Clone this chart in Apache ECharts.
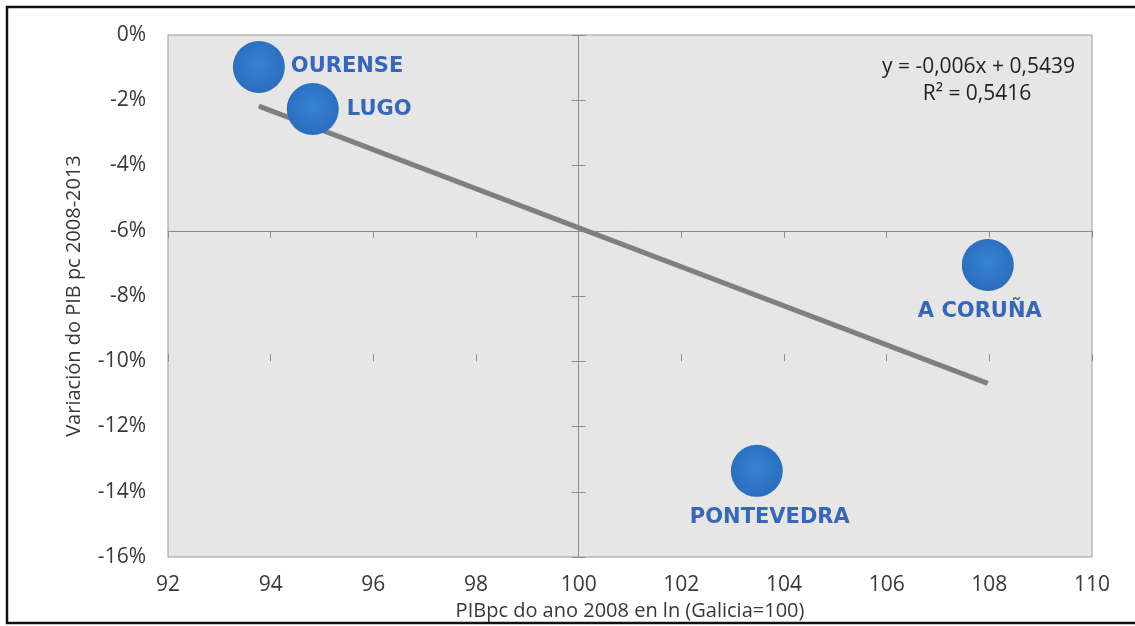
<!DOCTYPE html>
<html>
<head>
<meta charset="utf-8">
<script src="https://cdn.jsdelivr.net/npm/echarts@6/dist/echarts.min.js"></script>
<style>
  html, body { margin: 0; padding: 0; background: #fff; }
  #chart { width: 1135px; height: 626px; }
</style>
</head>
<body>
<div id="chart"></div>
<script>
// datos leidos da grafica
var provincias = ['OURENSE', 'LUGO', 'A CORUÑA', 'PONTEVEDRA'];
var pibpc = [93.77, 94.82, 107.97, 103.47];        // PIBpc 2008 (Galicia=100)
var variacion = [-0.98, -2.27, -7.05, -13.36];      // variacion PIB pc 2008-2013, %
var xTicks = [92, 110, 2];
var yTicks = [-16, 0, 2];
var ecuacion = 'y = -0,006x + 0,5439';
var r2 = 'R² = 0,5416';

var labelPos = ['right', 'right', 'bottom', 'bottom'];
var labelOffset = [[0, 0], [2, 0], [-8, 4], [13, 4]];

// recta de regresion (minimos cadrados) sobre os puntos
function tendencia(xs, ys) {
    var n = xs.length, mx = 0, my = 0;
    for (var i = 0; i < n; i++) { mx += xs[i]; my += ys[i]; }
    mx /= n; my /= n;
    var sxy = 0, sxx = 0;
    for (var j = 0; j < n; j++) {
        sxy += (xs[j] - mx) * (ys[j] - my);
        sxx += (xs[j] - mx) * (xs[j] - mx);
    }
    var b = sxy / sxx, a = my - b * mx;
    var x0 = Math.min.apply(null, xs), x1 = Math.max.apply(null, xs);
    return [[x0, a + b * x0], [x1, a + b * x1]];
}

var grid = { left: 168, right: 43, top: 35, bottom: 69 };
var plotW = 1135 - grid.left - grid.right;
var plotH = 626 - grid.top - grid.bottom;
// os eixos cruzanse en x=100 e y=-6%
var xOff = -plotH * (-6 - yTicks[0]) / (yTicks[1] - yTicks[0]);
var yOff = -plotW * (100 - xTicks[0]) / (xTicks[1] - xTicks[0]);

var textColor = '#383838';
var axisColor = '#8c8c8c';
var font = 'Open Sans';

function eixoX(extra) {
    return Object.assign({
        type: 'value', min: xTicks[0], max: xTicks[1], interval: xTicks[2],
        position: 'bottom', splitLine: { show: false },
        axisLine: { show: false }, axisTick: { show: false }, axisLabel: { show: false }
    }, extra);
}
function eixoY(extra) {
    return Object.assign({
        type: 'value', min: yTicks[0], max: yTicks[1], interval: yTicks[2],
        position: 'left', splitLine: { show: false },
        axisLine: { show: false }, axisTick: { show: false }, axisLabel: { show: false }
    }, extra);
}
var liña = { show: true, onZero: false, lineStyle: { color: axisColor, width: 1 } };

var puntos = provincias.map(function (p, i) {
    return {
        name: p,
        value: [pibpc[i], variacion[i]],
        label: { position: labelPos[i], offset: labelOffset[i] }
    };
});

var option = {
    animation: false,
    grid: Object.assign({ show: true, backgroundColor: '#e6e6e6', borderColor: '#9a9a9a', borderWidth: 1 }, grid),
    xAxis: [
        eixoX({
            axisLabel: { show: true, color: textColor, fontFamily: font, fontSize: 21, margin: 18 },
            name: 'PIBpc do ano 2008 en ln (Galicia=100)', nameLocation: 'middle', nameGap: 38,
            nameTextStyle: { color: textColor, fontFamily: font, fontSize: 20 }
        }),
        eixoX({ offset: xOff, axisLine: liña, axisTick: { show: true, length: 7, lineStyle: { color: axisColor } } }),
        eixoX({ offset: xOff, axisTick: { show: true, inside: true, length: 7, lineStyle: { color: axisColor } } })
    ],
    yAxis: [
        eixoY({
            axisLabel: { show: true, color: textColor, fontFamily: font, fontSize: 21, margin: 22,
                formatter: function (v) { return v + '%'; } },
            name: 'Variación do PIB pc 2008-2013', nameLocation: 'middle', nameGap: 84,
            nameTextStyle: { color: textColor, fontFamily: font, fontSize: 20 }
        }),
        eixoY({ offset: yOff, axisLine: liña, axisTick: { show: true, length: 7, lineStyle: { color: axisColor } } }),
        eixoY({ offset: yOff, axisTick: { show: true, inside: true, length: 7, lineStyle: { color: axisColor } } })
    ],
    series: [
        {
            type: 'line',
            data: tendencia(pibpc, variacion),
            symbol: 'none',
            lineStyle: { color: '#7f7f7f', width: 5 },
            z: 3
        },
        {
            type: 'scatter',
            data: puntos,
            symbolSize: 52,
            itemStyle: {
                color: {
                    type: 'radial', x: 0.5, y: 0.45, r: 0.6,
                    colorStops: [
                        { offset: 0, color: '#3683d2' },
                        { offset: 1, color: '#2a6bbb' }
                    ]
                },
                opacity: 1
            },
            label: {
                show: true,
                formatter: '{b}',
                color: '#3866b8',
                fontFamily: 'DejaVu Sans',
                fontWeight: 'bold',
                fontSize: 21,
                distance: 6
            },
            z: 4
        }
    ],
    graphic: [
        {
            type: 'rect', silent: true,
            shape: { x: 7, y: 7, width: 1140, height: 616 },
            style: { fill: 'none', stroke: '#111', lineWidth: 2.5 }
        },
        {
            type: 'text', x: 1075, y: 67,
            style: { text: ecuacion, fill: '#222', font: '21px "Open Sans"', align: 'right', verticalAlign: 'middle' }
        },
        {
            type: 'text', x: 977, y: 94,
            style: { text: r2, fill: '#222', font: '21px "Open Sans"', align: 'center', verticalAlign: 'middle' }
        }
    ]
};

var myChart = echarts.init(document.getElementById('chart'));
myChart.setOption(option);
</script>
</body>
</html>
